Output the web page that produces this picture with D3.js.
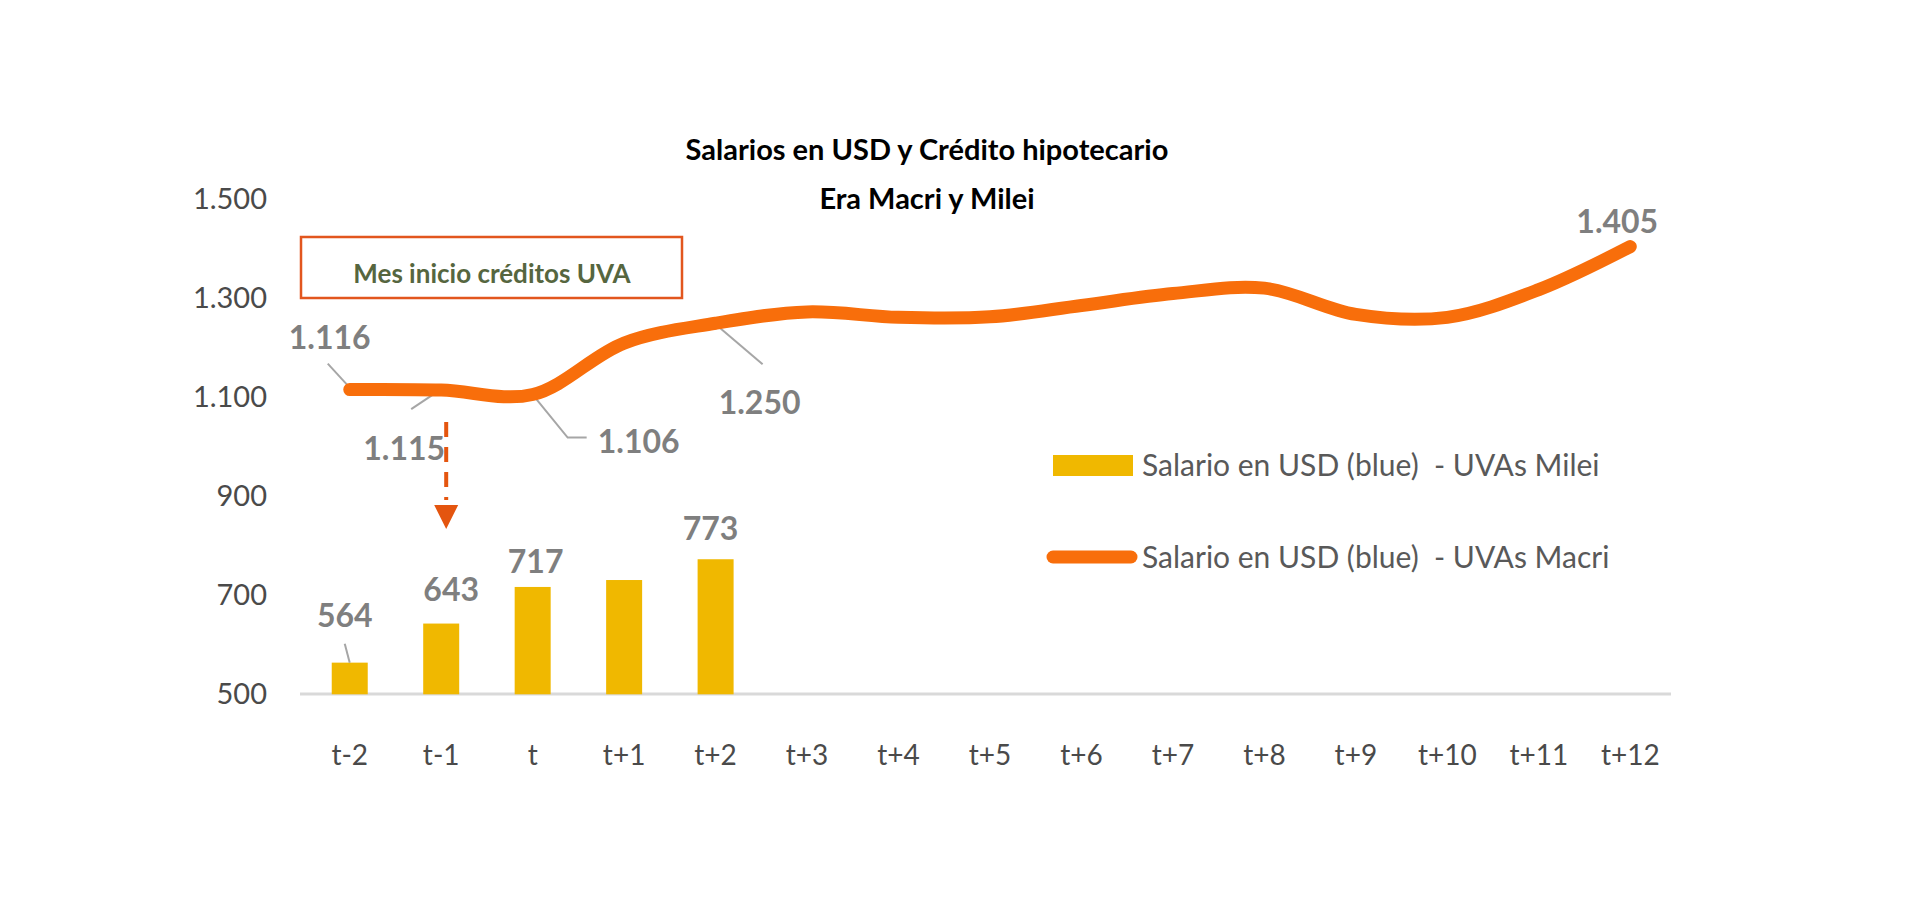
<!DOCTYPE html>
<html>
<head>
<meta charset="utf-8">
<script src="https://cdn.jsdelivr.net/npm/d3@7/dist/d3.min.js"></script>
<style>
  html, body { margin: 0; padding: 0; background: #fff; }
  svg { display: block; font-family: Lato, "Open Sans", sans-serif; }
</style>
</head>
<body>
<svg id="chart" width="1920" height="923"></svg>
<script>
// ---- data ----
const categories = ["t-2","t-1","t","t+1","t+2","t+3","t+4","t+5","t+6","t+7","t+8","t+9","t+10","t+11","t+12"];
const mileiBars = [564, 643, 717, 731, 773, null, null, null, null, null, null, null, null, null, null];
const macriLine = [1116, 1115, 1106, 1210, 1250, 1273, 1262, 1263, 1286, 1310, 1321, 1268, 1262, 1318, 1405];
const yTicks = [500, 700, 900, 1100, 1300, 1500];
const titleLines = ["Salarios en USD y Crédito hipotecario", "Era Macri y Milei"];
const legendLabels = ["Salario en USD (blue)  - UVAs Milei", "Salario en USD (blue)  - UVAs Macri"];
const boxText = "Mes inicio créditos UVA";
const markerCategory = "t-1";

// labelled points (category index)
const lineLabelIdx = [0, 1, 2, 4, 14];
const barLabelIdx = [0, 1, 2, 4];

// ---- layout/style ----
const C = {
  orange: "#F86E0B", gold: "#F0B800", gray: "#7F7F7F", axisText: "#4a4a4a",
  leader: "#A6A6A6", axisLine: "#D9D9D9", boxStroke: "#E2561E", boxText: "#56663F", arrow: "#E4550F"
};
const lineLabelLayout = {
  0: {dx: -20, dy: -41, leader: [[0,-2],[-22,-26]]},
  1: {dx: -37, dy: 70, leader: [[0,-1],[-30,19]]},
  2: {dx: 106, dy: 58, leader: [[0,0],[35,43],[54,43]]},
  4: {dx: 44, dy: 91, leader: [[0,1],[47,41]]},
  14: {dx: -13, dy: -14, leader: null}
};
const barLabelLayout = {
  0: {dx: -5, dy: -36, leader: [[-5,-19],[0,0]]},
  1: {dx: 10, dy: -23, leader: null},
  2: {dx: 3, dy: -14, leader: null},
  4: {dx: -5, dy: -19, leader: null}
};

const svg = d3.select("#chart");
const fmt = d3.formatLocale({decimal: ",", thousands: ".", grouping: [3], currency: ["$",""]}).format(",");

const x = d3.scaleBand().domain(categories).range([304, 1676]).paddingInner(0.6).paddingOuter(0.3);
const xc = c => x(c) + x.bandwidth() / 2;
const y = d3.scaleLinear().domain([500, 1500]).range([694.3, 199.6]);

// title
svg.append("g").selectAll("text").data(titleLines).join("text")
  .attr("x", 927).attr("y", (d, i) => 160 + i * 49)
  .attr("text-anchor", "middle").attr("font-weight", 700).attr("font-size", 29)
  .attr("fill", "#000").text(d => d);

// y axis (labels only)
const yAxis = d3.axisLeft(y).tickValues(yTicks).tickFormat(fmt).tickSize(0).tickPadding(0);
const gy = svg.append("g").attr("transform", "translate(267,0)").call(yAxis);
gy.select(".domain").remove();
gy.selectAll("text").attr("font-size", 29).attr("fill", C.axisText).attr("font-family", "Lato, sans-serif");

// x axis
const xAxis = d3.axisBottom(x).tickSize(0).tickPadding(0);
const gx = svg.append("g").attr("transform", "translate(0,694)").call(xAxis);
gx.select(".domain").attr("stroke", C.axisLine).attr("stroke-width", 3).attr("d", "M300,0H1671");
gx.selectAll("text").attr("font-size", 28).attr("fill", C.axisText).attr("dy", null).attr("y", 71)
  .attr("font-family", "Lato, sans-serif");

// bars
const barW = 36;
const barData = categories.map((c, i) => ({c, v: mileiBars[i], i})).filter(d => d.v != null);
svg.append("g").selectAll("rect").data(barData).join("rect")
  .attr("x", d => xc(d.c) - barW / 2).attr("width", barW)
  .attr("y", d => y(d.v)).attr("height", d => y(500) - y(d.v))
  .attr("fill", C.gold);

// line
const lineData = categories.map((c, i) => ({c, v: macriLine[i], i}));
const lineGen = d3.line().x(d => xc(d.c)).y(d => y(d.v)).curve(d3.curveCatmullRom.alpha(0.5));

// leaders (drawn under the line)
const leaderGen = d3.line();
const gLead = svg.append("g").attr("fill", "none").attr("stroke", C.leader).attr("stroke-width", 2);
lineLabelIdx.forEach(i => {
  const L = lineLabelLayout[i];
  if (!L.leader) return;
  const px = xc(categories[i]), py = y(macriLine[i]);
  gLead.append("path").attr("d", leaderGen(L.leader.map(p => [px + p[0], py + p[1]])));
});
barLabelIdx.forEach(i => {
  const L = barLabelLayout[i];
  if (!L.leader) return;
  const px = xc(categories[i]), py = y(mileiBars[i]);
  gLead.append("path").attr("d", leaderGen(L.leader.map(p => [px + p[0], py + p[1]])));
});

svg.append("path").datum(lineData).attr("d", lineGen)
  .attr("fill", "none").attr("stroke", C.orange).attr("stroke-width", 13)
  .attr("stroke-linecap", "round").attr("stroke-linejoin", "round");

// labels
const gLab = svg.append("g").attr("font-weight", 700).attr("font-size", 32).attr("fill", C.gray).attr("text-anchor", "middle");
lineLabelIdx.forEach(i => {
  const L = lineLabelLayout[i];
  gLab.append("text").attr("x", xc(categories[i]) + L.dx).attr("y", y(macriLine[i]) + L.dy).text(fmt(macriLine[i]));
});
barLabelIdx.forEach(i => {
  const L = barLabelLayout[i];
  gLab.append("text").attr("x", xc(categories[i]) + L.dx).attr("y", y(mileiBars[i]) + L.dy).text(fmt(mileiBars[i]));
});

// annotation box
svg.append("rect").attr("x", 301).attr("y", 237).attr("width", 381).attr("height", 61)
  .attr("fill", "none").attr("stroke", C.boxStroke).attr("stroke-width", 2.5);
svg.append("text").attr("x", 492).attr("y", 283).attr("text-anchor", "middle")
  .attr("font-size", 26).attr("font-weight", 700).attr("fill", C.boxText).text(boxText);

// dashed arrow at marker category
const ax = xc(markerCategory) + 5;
svg.append("line").attr("x1", ax).attr("x2", ax).attr("y1", 422).attr("y2", 500)
  .attr("stroke", C.arrow).attr("stroke-width", 4).attr("stroke-dasharray", "15,10");
svg.append("path").attr("d", `M${ax - 12},505L${ax + 12},505L${ax},529Z`).attr("fill", C.arrow);

// legend
const gLeg = svg.append("g");
gLeg.append("rect").attr("x", 1053).attr("y", 455).attr("width", 80).attr("height", 21).attr("fill", C.gold);
gLeg.append("line").attr("x1", 1053).attr("x2", 1131).attr("y1", 557).attr("y2", 557)
  .attr("stroke", C.orange).attr("stroke-width", 13).attr("stroke-linecap", "round");
gLeg.selectAll("text").data(legendLabels).join("text")
  .attr("x", 1142).attr("y", (d, i) => 476 + i * 92)
  .attr("font-size", 30).attr("fill", "#595959").attr("xml:space", "preserve")
  .style("white-space", "pre").text(d => d);
</script>
</body>
</html>
